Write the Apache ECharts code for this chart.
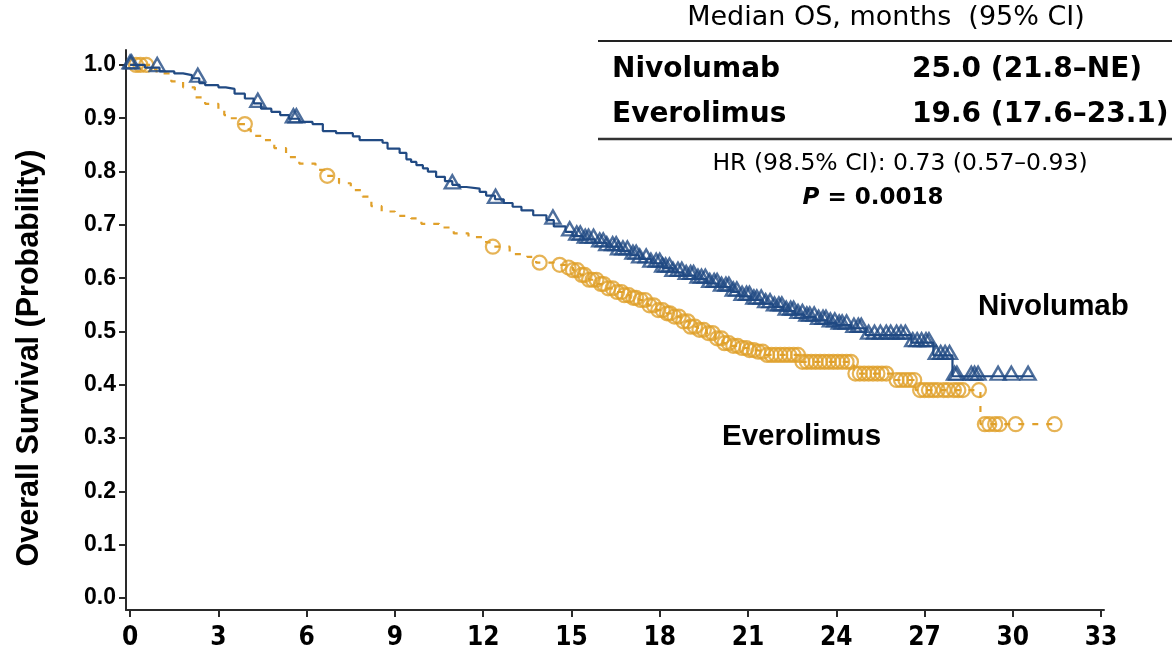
<!DOCTYPE html>
<html>
<head>
<meta charset="utf-8">
<script src="https://cdn.jsdelivr.net/npm/echarts@6/dist/echarts.min.js"></script>
<style>
  html, body { margin: 0; padding: 0; background: #ffffff; }
  #chart { width: 1172px; height: 651px; }
</style>
</head>
<body>
<div id="chart"></div>
<script>
// Kaplan–Meier overall survival: [month, survival probability after the step]
const nivolumabSteps = [
  [0, 1.0], [0.5, 0.995], [1.0, 0.988], [1.5, 0.984], [1.8, 0.981], [2.1, 0.975],
  [2.35, 0.966], [2.55, 0.962], [3.0, 0.958], [3.25, 0.955], [3.55, 0.946], [3.9, 0.937],
  [4.2, 0.928], [4.45, 0.918], [4.8, 0.912], [5.1, 0.906], [5.4, 0.899], [5.75, 0.893],
  [6.2, 0.889], [6.55, 0.876], [7.0, 0.872], [7.57, 0.866], [7.8, 0.859], [8.58, 0.854],
  [8.75, 0.843], [9.16, 0.835], [9.39, 0.823], [9.55, 0.818], [9.73, 0.812], [9.95, 0.806],
  [10.12, 0.800], [10.4, 0.790], [10.7, 0.782], [10.95, 0.775], [11.2, 0.771], [11.43, 0.768],
  [11.88, 0.762], [12.1, 0.755], [12.4, 0.748], [12.7, 0.741], [13.0, 0.734], [13.3, 0.727],
  [13.7, 0.718], [14.15, 0.709], [14.4, 0.697], [14.8, 0.687], [15.04, 0.679], [15.4, 0.673],
  [15.8, 0.666], [16.2, 0.659], [16.6, 0.651], [17.0, 0.643], [17.3, 0.636], [17.7, 0.628],
  [18.1, 0.619], [18.45, 0.611], [18.8, 0.605], [19.2, 0.598], [19.6, 0.590], [20.0, 0.583],
  [20.4, 0.574], [20.7, 0.566], [21.1, 0.559], [21.5, 0.552], [21.85, 0.546], [22.2, 0.538],
  [22.6, 0.532], [22.9, 0.527], [23.3, 0.521], [23.7, 0.516], [24.0, 0.512], [24.5, 0.506],
  [25.0, 0.493], [26.55, 0.479], [27.3, 0.455], [27.95, 0.416]
];
const nivolumabLastFollowUp = 30.7;

const everolimusSteps = [
  [0, 1.0], [0.75, 0.992], [0.9, 0.984], [1.4, 0.969], [1.8, 0.958], [2.2, 0.939],
  [2.55, 0.927], [3.0, 0.916], [3.2, 0.906], [3.4, 0.900], [3.7, 0.889], [3.95, 0.879],
  [4.1, 0.867], [4.5, 0.859], [4.9, 0.844], [5.3, 0.827], [5.75, 0.815], [6.3, 0.803],
  [6.6, 0.792], [7.1, 0.778], [7.5, 0.765], [7.9, 0.753], [8.2, 0.735], [8.55, 0.725],
  [9.0, 0.717], [9.55, 0.712], [9.9, 0.702], [10.5, 0.695], [11.0, 0.684], [11.5, 0.677],
  [12.1, 0.667], [12.3, 0.659], [12.9, 0.645], [13.5, 0.640], [13.8, 0.629], [14.4, 0.625],
  [14.8, 0.620], [15.05, 0.615], [15.3, 0.606], [15.6, 0.597], [15.9, 0.589], [16.2, 0.581],
  [16.5, 0.574], [16.74, 0.568], [17.0, 0.563], [17.3, 0.559], [17.6, 0.549], [17.9, 0.540],
  [18.2, 0.534], [18.45, 0.528], [18.7, 0.519], [19.0, 0.509], [19.3, 0.503], [19.6, 0.497],
  [19.9, 0.487], [20.15, 0.478], [20.4, 0.473], [20.7, 0.469], [21.0, 0.465], [21.3, 0.462],
  [21.6, 0.456], [22.8, 0.443], [24.6, 0.421], [25.95, 0.409], [26.7, 0.390], [28.9, 0.326]
];
const everolimusLastFollowUp = 31.45;

// Censoring times (months)
const nivolumabCensored = [
  0.0, 0.05, 0.92, 2.3, 4.34, 5.55, 5.65, 10.95, 12.42, 14.37, 14.94, 15.18, 15.3, 15.47,
  15.58, 15.75, 15.96, 16.08, 16.2, 16.4, 16.52, 16.6, 16.75, 16.9, 17.09, 17.2, 17.32,
  17.54, 17.7, 17.88, 18.0, 18.1, 18.2, 18.33, 18.45, 18.62, 18.75, 18.9, 19.05, 19.15,
  19.3, 19.42, 19.55, 19.7, 19.85, 19.95, 20.1, 20.25, 20.35, 20.5, 20.62, 20.8, 20.95,
  21.05, 21.2, 21.3, 21.45, 21.6, 21.75, 21.9, 22.05, 22.15, 22.3, 22.45, 22.55, 22.7,
  22.85, 23.0, 23.1, 23.25, 23.4, 23.55, 23.65, 23.8, 23.95, 24.1, 24.2, 24.35, 24.6,
  24.75, 24.85, 25.1, 25.3, 25.5, 25.7, 25.85, 26.05, 26.2, 26.35, 26.6, 26.75, 26.9,
  27.05, 27.15, 27.4, 27.55, 27.7, 27.85, 28.02, 28.1, 28.59, 28.7, 28.82, 29.5, 29.95, 30.52
];
const everolimusCensored = [
  0.2, 0.35, 0.55, 3.9, 6.7, 12.33, 13.92, 14.6, 14.9, 15.05, 15.2, 15.35, 15.45, 15.6,
  15.72, 15.85, 16.0, 16.1, 16.25, 16.4, 16.55, 16.7, 16.8, 16.95, 17.1, 17.2, 17.35, 17.5,
  17.65, 17.8, 17.95, 18.1, 18.25, 18.35, 18.5, 18.65, 18.8, 18.95, 19.05, 19.2, 19.35,
  19.5, 19.65, 19.8, 19.95, 20.1, 20.2, 20.35, 20.5, 20.65, 20.8, 20.95, 21.05, 21.2,
  21.35, 21.5, 21.65, 21.8, 21.95, 22.1, 22.25, 22.4, 22.55, 22.7, 22.85, 23.0, 23.15,
  23.3, 23.45, 23.6, 23.75, 23.9, 24.05, 24.2, 24.35, 24.5, 24.65, 24.8, 24.95, 25.1,
  25.25, 25.4, 25.55, 25.7, 26.05, 26.2, 26.35, 26.5, 26.65, 26.85, 27.0, 27.15, 27.3,
  27.45, 27.65, 27.8, 28.0, 28.15, 28.3, 28.85, 29.05, 29.2, 29.4, 29.55, 30.1, 31.42
];

const xTickValues = [0, 3, 6, 9, 12, 15, 18, 21, 24, 27, 30, 33];
const yTickValues = [0, 0.1, 0.2, 0.3, 0.4, 0.5, 0.6, 0.7, 0.8, 0.9, 1.0];

const armNames = ['Nivolumab', 'Everolimus'];
const medianOS = ['25.0 (21.8–NE)', '19.6 (17.6–23.1)'];
const tableHeader = 'Median OS, months  (95% CI)';
const hazardText = 'HR (98.5% CI): 0.73 (0.57–0.93)';
const pValueText = '0.0018';

const BLUE = '#214a83';
const ORANGE = '#e0a02a';
const AXIS = '#2a2a2a';

function survivalAt(steps, t) {
  let s = steps[0][1];
  for (const [ti, si] of steps) {
    if (ti <= t) s = si; else break;
  }
  return s;
}
function curveData(steps, lastTime) {
  return steps.concat([[lastTime, steps[steps.length - 1][1]]]);
}
function censorData(steps, times) {
  return times.map(t => [t, survivalAt(steps, t)]);
}

const chart = echarts.init(document.getElementById('chart'), null, { renderer: 'canvas' });

const boldRow = { fontFamily: 'DejaVu Sans', fontWeight: 'bold', fontSize: 28, fill: '#000' };
const ARIAL = "'Liberation Sans', Arial, sans-serif";

chart.setOption({
  animation: false,
  backgroundColor: '#ffffff',
  grid: { left: 126, right: 68, top: 50, bottom: 41, containLabel: false },
  xAxis: {
    type: 'value',
    min: -0.14,
    max: 33.1,
    splitLine: { show: false },
    axisLine: { show: true, onZero: false, lineStyle: { color: AXIS, width: 2 } },
    axisTick: { show: true, length: 7, customValues: xTickValues, lineStyle: { color: AXIS, width: 2 } },
    axisLabel: {
      customValues: xTickValues,
      margin: 15,
      color: '#000',
      fontFamily: "'Liberation Sans Narrow', 'DejaVu Sans Condensed', 'Liberation Sans', sans-serif",
      fontWeight: 'bold',
      fontSize: 26,
      formatter: v => String(Math.round(v))
    }
  },
  yAxis: {
    type: 'value',
    min: -0.0225,
    max: 1.028,
    splitLine: { show: false },
    axisLine: { show: true, onZero: false, lineStyle: { color: AXIS, width: 2 } },
    axisTick: { show: true, length: 7, customValues: yTickValues, lineStyle: { color: AXIS, width: 2 } },
    axisLabel: {
      customValues: yTickValues,
      margin: 10,
      color: '#000',
      fontFamily: ARIAL,
      fontWeight: 'bold',
      fontSize: 23,
      formatter: v => v.toFixed(1)
    }
  },
  series: [
    {
      name: 'Everolimus',
      type: 'line',
      step: 'end',
      showSymbol: false,
      data: curveData(everolimusSteps, everolimusLastFollowUp),
      lineStyle: { color: ORANGE, width: 2.2, type: [6, 8] },
      z: 2
    },
    {
      name: 'Everolimus censored',
      type: 'scatter',
      symbol: 'circle',
      symbolSize: 14,
      data: censorData(everolimusSteps, everolimusCensored),
      itemStyle: { color: 'rgba(255,255,255,0)', borderColor: ORANGE, borderWidth: 2.2 },
      z: 3
    },
    {
      name: 'Nivolumab',
      type: 'line',
      step: 'end',
      showSymbol: false,
      data: curveData(nivolumabSteps, nivolumabLastFollowUp),
      lineStyle: { color: BLUE, width: 2.2 },
      z: 4
    },
    {
      name: 'Nivolumab censored',
      type: 'scatter',
      symbol: 'triangle',
      symbolSize: [15, 13],
      symbolOffset: [0, -3],
      data: censorData(nivolumabSteps, nivolumabCensored),
      itemStyle: { color: 'rgba(255,255,255,0)', borderColor: BLUE, borderWidth: 2.4 },
      z: 5
    }
  ],
  graphic: [
    {
      type: 'text', x: 30, y: 358, rotation: Math.PI / 2,
      style: {
        text: 'Overall Survival (Probability)', align: 'center', verticalAlign: 'middle',
        fontFamily: ARIAL, fontWeight: 'bold', fontSize: 30.5, fill: '#000'
      }
    },
    {
      type: 'text', x: 886, y: 18,
      style: { text: tableHeader, align: 'center', verticalAlign: 'middle',
        fontFamily: 'DejaVu Sans', fontSize: 27, fill: '#000' }
    },
    { type: 'line', shape: { x1: 598, y1: 41, x2: 1172, y2: 41 }, style: { stroke: '#222', lineWidth: 2 } },
    { type: 'text', x: 612, y: 70, style: Object.assign({ text: armNames[0], align: 'left', verticalAlign: 'middle' }, boldRow) },
    { type: 'text', x: 912, y: 70, style: Object.assign({ text: medianOS[0], align: 'left', verticalAlign: 'middle' }, boldRow) },
    { type: 'text', x: 612, y: 115, style: Object.assign({ text: armNames[1], align: 'left', verticalAlign: 'middle' }, boldRow) },
    { type: 'text', x: 912, y: 115, style: Object.assign({ text: medianOS[1], align: 'left', verticalAlign: 'middle' }, boldRow) },
    { type: 'line', shape: { x1: 598, y1: 139, x2: 1172, y2: 139 }, style: { stroke: '#333', lineWidth: 2.5 } },
    {
      type: 'text', x: 900, y: 164,
      style: { text: hazardText, align: 'center', verticalAlign: 'middle',
        fontFamily: 'DejaVu Sans', fontSize: 23.5, fill: '#000' }
    },
    {
      type: 'text', x: 873, y: 198,
      style: {
        text: '{i|P} = ' + pValueText, align: 'center', verticalAlign: 'middle',
        fontFamily: 'DejaVu Sans', fontWeight: 'bold', fontSize: 23, fill: '#000',
        rich: { i: { fontFamily: 'DejaVu Sans', fontWeight: 'bold', fontStyle: 'italic', fontSize: 23, fill: '#000' } }
      }
    },
    {
      type: 'text', x: 978, y: 307,
      style: { text: armNames[0], align: 'left', verticalAlign: 'middle',
        fontFamily: ARIAL, fontWeight: 'bold', fontSize: 29.5, fill: '#000' }
    },
    {
      type: 'text', x: 722, y: 437,
      style: { text: armNames[1], align: 'left', verticalAlign: 'middle',
        fontFamily: ARIAL, fontWeight: 'bold', fontSize: 29.5, fill: '#000' }
    }
  ]
});
</script>
</body>
</html>
